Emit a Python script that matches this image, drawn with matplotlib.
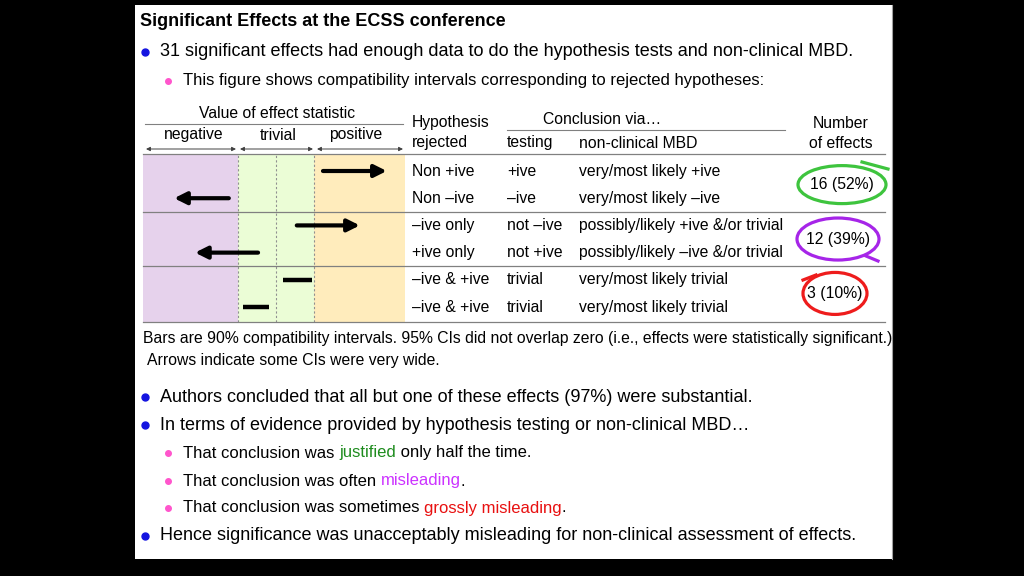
import matplotlib
matplotlib.use('Agg')
import matplotlib.pyplot as plt
from matplotlib.patches import Ellipse
from matplotlib import transforms

plt.rcParams['font.family'] = ['Liberation Sans', 'DejaVu Sans']

# compatibility intervals (effect units, trivial threshold = 1)
ci_low = [1.24, -2.68, 0.55, -2.13, 0.18, -0.87]
ci_high = [2.92, -1.24, 2.21, -0.47, 0.95, -0.18]
ci_arrow = ['high', 'low', 'high', 'low', None, None]

hyp_rejected = ['Non +ive', 'Non \u2013ive', '\u2013ive only', '+ive only',
                '\u2013ive & +ive', '\u2013ive & +ive']
test_concl = ['+ive', '\u2013ive', 'not \u2013ive', 'not +ive', 'trivial', 'trivial']
mbd_concl = ['very/most likely +ive', 'very/most likely \u2013ive',
             'possibly/likely +ive &/or trivial', 'possibly/likely \u2013ive &/or trivial',
             'very/most likely trivial', 'very/most likely trivial']
counts = [16, 12, 3]
percents = [52, 39, 10]
circle_colors = ['#3ec43e', '#a625e8', '#ee1c1c']

W, H = 1024, 576
fig = plt.figure(figsize=(W / 100, H / 100), dpi=100)
fig.patch.set_facecolor('black')

# white slide
slide = fig.add_axes([135 / W, 1 - 559 / H, 757 / W, 554 / H])
slide.set_facecolor('white')
slide.set_xticks([])
slide.set_yticks([])
for s in ['left', 'top', 'bottom']:
    slide.spines[s].set_visible(False)
slide.spines['right'].set_color('#a0a0a0')

# diagram of intervals
ins = fig.add_axes([143 / W, 1 - 322 / H, (405 - 143) / W, (322 - 154) / H])
ins.set_xlim(-3.5, 3.4)
ins.set_ylim(5.55, -0.625)
ins.axis('off')
ins.axvspan(-3.5, -1, color='#e6d2ec', lw=0)
ins.axvspan(-1, 1, color='#ebfdd6', lw=0)
ins.axvspan(1, 3.4, color='#ffecbc', lw=0)
for xv in [-1, 0, 1]:
    ins.axvline(xv, color='#909090', lw=0.8, ls=(0, (2, 2)))

for i in range(len(ci_low)):
    if ci_arrow[i] == 'high':
        ins.annotate('', xy=(ci_high[i], i), xytext=(ci_low[i], i),
                     arrowprops=dict(arrowstyle='-|>', lw=3, color='black',
                                     mutation_scale=18, shrinkA=0, shrinkB=0))
    elif ci_arrow[i] == 'low':
        ins.annotate('', xy=(ci_low[i], i), xytext=(ci_high[i], i),
                     arrowprops=dict(arrowstyle='-|>', lw=3, color='black',
                                     mutation_scale=18, shrinkA=0, shrinkB=0))
    else:
        ins.hlines(i, ci_low[i], ci_high[i], color='black', lw=3.2)

# overlay for all text and rules
ax = fig.add_axes([0, 0, 1, 1], zorder=3)
ax.set_xlim(0, W)
ax.set_ylim(H, 0)
ax.axis('off')
ax.patch.set_alpha(0)

rowy = transforms.blended_transform_factory(ax.transData, ins.transData)

big = 13
sub = 12
small = 11.3


def bullet(y, text, level=1):
    if level == 1:
        ax.plot(145, y, 'o', color='#1414e0', ms=5)
        return ax.text(160, y, text, fontsize=big, va='center')
    ax.plot(168, y, 'o', color='#ff55cc', ms=4)
    return ax.text(183, y, text, fontsize=sub, va='center')


def colored(first, pieces):
    prev = first
    for txt, col in pieces:
        prev = ax.annotate(txt, xy=(1, 0), xycoords=prev, va='bottom',
                           fontsize=first.get_fontsize(), color=col)


ax.text(140, 22, 'Significant Effects at the ECSS conference', fontsize=big,
        fontweight='bold', va='center')
bullet(52, '31 significant effects had enough data to do the hypothesis tests and non-clinical MBD.')
bullet(81, 'This figure shows compatibility intervals corresponding to rejected hypotheses:', 2)

# header of the diagram
ax.text(277, 113, 'Value of effect statistic', fontsize=small, ha='center', va='center')
ax.plot([145, 403], [124, 124], color='#808080', lw=0.8)
ax.text(194, 135, 'negative', fontsize=small, ha='center', va='center')
ax.text(278, 135, 'trivial', fontsize=small, ha='center', va='center')
ax.text(356, 135, 'positive', fontsize=small, ha='center', va='center')
for a, b in [(146, 236), (240, 313), (317, 403)]:
    ax.annotate('', xy=(a, 149), xytext=(b, 149),
                arrowprops=dict(arrowstyle='<|-|>', lw=0.7, color='#404040',
                                mutation_scale=6, shrinkA=0, shrinkB=0))

ax.text(412, 122, 'Hypothesis', fontsize=small, va='center')
ax.text(412, 143, 'rejected', fontsize=small, va='center')
ax.text(602, 119, 'Conclusion via\u2026', fontsize=small, ha='center', va='center')
ax.plot([507, 785], [130, 130], color='#808080', lw=0.8)
ax.text(507, 143, 'testing', fontsize=small, va='center')
ax.text(579, 143, 'non-clinical MBD', fontsize=small, va='center')
ax.text(841, 124, 'Number', fontsize=small, ha='center', va='center')
ax.text(841, 143, 'of effects', fontsize=small, ha='center', va='center')

for yl in [154, 322]:
    ax.plot([143, 885], [yl, yl], color='#808080', lw=0.9)
for yr in [1.5, 3.5]:
    ax.plot([143, 885], [yr, yr], color='#808080', lw=0.9, transform=rowy)

for i in range(len(hyp_rejected)):
    ax.text(412, i, hyp_rejected[i], fontsize=small, va='center', transform=rowy)
    ax.text(507, i, test_concl[i], fontsize=small, va='center', transform=rowy)
    ax.text(579, i, mbd_concl[i], fontsize=small, va='center', transform=rowy)

# counts with hand-drawn circles
circ_x = [842, 838, 835]
circ_w = [88, 82, 64]
circ_h = [38, 42, 42]
for k in range(len(counts)):
    yk = 2 * k + 0.5
    ax.text(circ_x[k], yk, '%d (%d%%)' % (counts[k], percents[k]), fontsize=small,
            ha='center', va='center', transform=rowy)
    cy = ax.transData.inverted().transform(rowy.transform((0, yk)))[1]
    ax.add_patch(Ellipse((circ_x[k], cy), circ_w[k], circ_h[k], fill=False,
                         ec=circle_colors[k], lw=2.3))
ax.plot([862, 888], [162, 169], color=circle_colors[0], lw=2.3)
ax.plot([866, 878], [256, 261], color=circle_colors[1], lw=2.3)
ax.plot([803, 816], [280, 275], color=circle_colors[2], lw=2.3)

ax.text(143, 339, 'Bars are 90% compatibility intervals. 95% CIs did not overlap zero '
        '(i.e., effects were statistically significant.)', fontsize=small, va='center')
ax.text(147, 361, 'Arrows indicate some CIs were very wide.', fontsize=small, va='center')

bullet(397, 'Authors concluded that all but one of these effects (97%) were substantial.')
bullet(425, 'In terms of evidence provided by hypothesis testing or non-clinical MBD\u2026')
t = bullet(453, 'That conclusion was ', 2)
colored(t, [('justified', '#1e8c1e'), (' only half the time.', 'black')])
t = bullet(481, 'That conclusion was often ', 2)
colored(t, [('misleading', '#cc33ff'), ('.', 'black')])
t = bullet(508, 'That conclusion was sometimes ', 2)
colored(t, [('grossly misleading', '#e81010'), ('.', 'black')])
bullet(536, 'Hence significance was unacceptably misleading for non-clinical assessment of effects.')

fig.savefig('out.png', dpi=100, facecolor=fig.get_facecolor())
